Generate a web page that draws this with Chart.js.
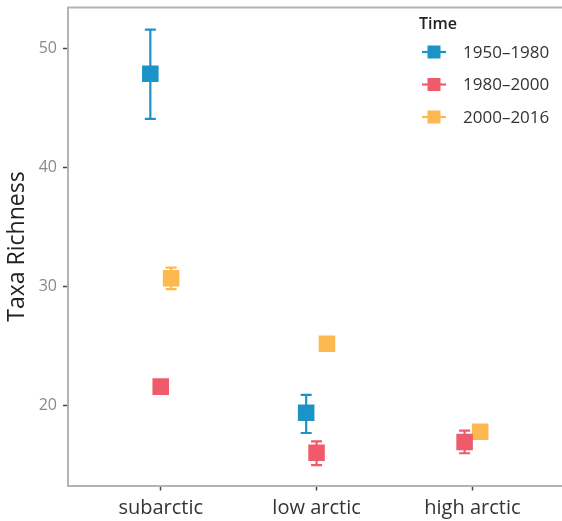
<!DOCTYPE html>
<html>
<head>
<meta charset="utf-8">
<script src="https://cdn.jsdelivr.net/npm/chart.js@4"></script>
<style>
html,body{margin:0;padding:0;background:#fff;overflow:hidden;}
#wrap{width:562px;height:521px;position:relative;}
</style>
</head>
<body>
<div id="wrap"><canvas id="c" width="562" height="521"></canvas></div>
<script>
// ---- data ----
const categories = ['subarctic', 'low arctic', 'high arctic'];
const seriesNames = ['1950\u20131980', '1980\u20132000', '2000\u20132016'];
const yTicks = [20, 30, 40, 50];

const mean1950 = [47.9, 19.4, null];
const low1950  = [44.1, 17.7, null];
const high1950 = [51.6, 20.9, null];

const mean1980 = [21.6, 16.05, 16.95];
const low1980  = [null, 15.0, 16.0];
const high1980 = [null, 17.0, 17.9];

const mean2000 = [30.7, 25.2, 17.8];
const low2000  = [29.8, null, null];
const high2000 = [31.6, null, null];

const colors = ['#1b93c7', '#ef5b6b', '#fdb850'];
const legendTitle = 'Time';
const yTitle = 'Taxa Richness';

// ---- dodge (position_dodge width 0.2) ----
const means = [mean1950, mean1980, mean2000];
const lows = [low1950, low1980, low2000];
const highs = [high1950, high1980, high2000];
const dodgeWidth = 0.2;
function dodgeX(s, c) {
  const present = [];
  means.forEach((m, i) => { if (m[c] != null) present.push(i); });
  const n = present.length, k = present.indexOf(s);
  return c + dodgeWidth * ((k + 0.5) / n - 0.5);
}

const datasets = means.map((m, s) => ({
  label: seriesNames[s],
  data: m.map((v, c) => v == null ? null : { x: dodgeX(s, c), y: v, lo: lows[s][c], hi: highs[s][c] }).filter(p => p),
  backgroundColor: colors[s],
  borderWidth: 0,
  pointStyle: 'rect',
  pointRadius: 11.7,
  pointHoverRadius: 11.7
}));

const FONT = '"Open Sans", sans-serif';
const AXIS_GRAY = '#b3b3b3';

const errorBars = {
  id: 'errorBars',
  beforeDatasetsDraw(chart) {
    const ctx = chart.ctx, xs = chart.scales.x, ys = chart.scales.y;
    ctx.save();
    chart.data.datasets.forEach((ds) => {
      ctx.strokeStyle = ds.backgroundColor;
      ctx.lineWidth = 2.2;
      ds.data.forEach(p => {
        if (p.lo == null || p.hi == null) return;
        const x = xs.getPixelForValue(p.x);
        const y1 = ys.getPixelForValue(p.lo), y2 = ys.getPixelForValue(p.hi);
        ctx.beginPath();
        ctx.moveTo(x, y1); ctx.lineTo(x, y2);
        ctx.moveTo(x - 5.5, y1); ctx.lineTo(x + 5.5, y1);
        ctx.moveTo(x - 5.5, y2); ctx.lineTo(x + 5.5, y2);
        ctx.stroke();
      });
    });
    ctx.restore();
  }
};

const frameAndLegend = {
  id: 'frameAndLegend',
  afterDraw(chart) {
    const ctx = chart.ctx, a = chart.chartArea;
    ctx.save();
    // top panel border
    ctx.strokeStyle = AXIS_GRAY;
    ctx.lineWidth = 2;
    ctx.beginPath();
    ctx.moveTo(a.left - 1, a.top); ctx.lineTo(chart.width, a.top);
    ctx.stroke();
    // legend
    ctx.fillStyle = '#222';
    ctx.font = '600 16px ' + FONT;
    ctx.textBaseline = 'middle';
    ctx.textAlign = 'left';
    ctx.fillText(legendTitle, 419, 24);
    const rowY = [52, 84.5, 117];
    seriesNames.forEach((name, i) => {
      const y = rowY[i], cx = 434;
      ctx.strokeStyle = colors[i];
      ctx.lineWidth = 2.2;
      ctx.beginPath(); ctx.moveTo(cx - 12, y); ctx.lineTo(cx + 12, y); ctx.stroke();
      ctx.fillStyle = colors[i];
      ctx.fillRect(cx - 6.5, y - 6.5, 13, 13);
      ctx.fillStyle = '#333';
      ctx.font = '17px ' + FONT;
      ctx.fillText(name, 463, y + 1);
    });
    ctx.restore();
  }
};

new Chart(document.getElementById('c'), {
  type: 'scatter',
  data: { datasets },
  plugins: [errorBars, frameAndLegend],
  options: {
    responsive: false,
    animation: false,
    devicePixelRatio: 1,
    layout: { autoPadding: false, padding: { top: 7.5, left: 0, right: 0, bottom: 0 } },
    plugins: { legend: { display: false }, tooltip: { enabled: false } },
    scales: {
      x: {
        type: 'linear',
        min: -0.595, max: 2.575,
        afterBuildTicks: s => { s.ticks = categories.map((c, i) => ({ value: i })); },
        afterFit: s => { s.height = 35.5; s.paddingLeft = 0; s.paddingRight = 0; },
        ticks: {
          callback: v => categories[v],
          color: '#333',
          font: { family: FONT, size: 20 },
          padding: 6,
          maxRotation: 0,
          autoSkip: false
        },
        grid: { drawOnChartArea: false, drawTicks: true, tickLength: 5, tickColor: '#444', tickWidth: 1.5 },
        border: { display: true, color: AXIS_GRAY, width: 2 }
      },
      y: {
        min: 13.29, max: 53.46,
        afterBuildTicks: s => { s.ticks = yTicks.map(v => ({ value: v })); },
        afterFit: s => { s.width = 68; s.paddingTop = 0; s.paddingBottom = 0; },
        ticks: {
          color: '#8a8a8a',
          font: { family: FONT, size: 16 },
          padding: 6
        },
        grid: { drawOnChartArea: false, drawTicks: true, tickLength: 5, tickColor: '#444', tickWidth: 1.5 },
        border: { display: true, color: AXIS_GRAY, width: 2 },
        title: {
          display: true,
          text: yTitle,
          color: '#222',
          font: { family: FONT, size: 23 },
          padding: { top: 3.5, bottom: 0 }
        }
      }
    }
  }
});
</script>
</body>
</html>
